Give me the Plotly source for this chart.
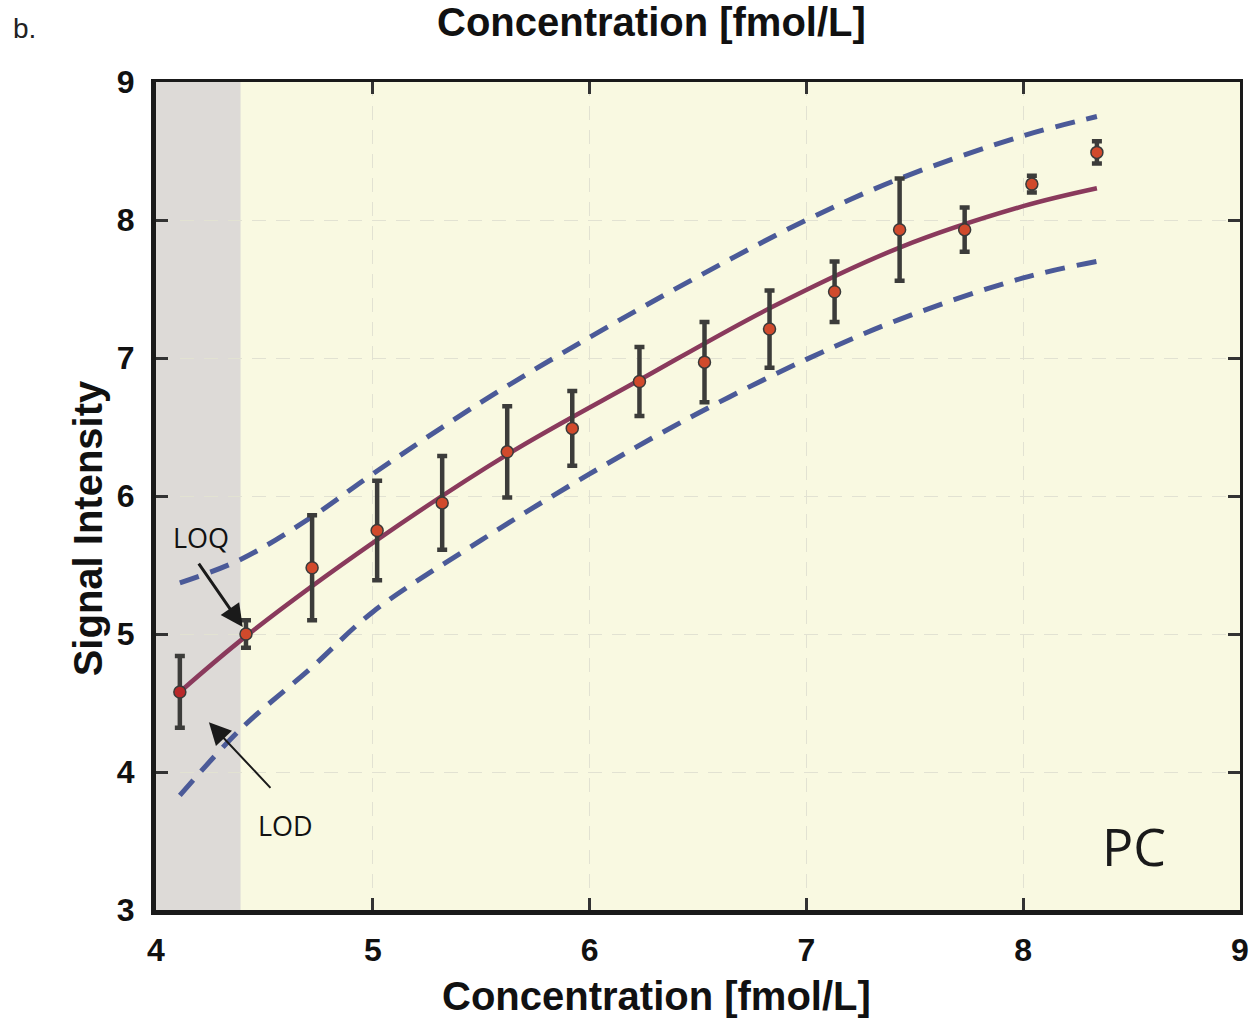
import plotly.graph_objects as go

# ---- data ----
conc = [4.11, 4.415, 4.72, 5.02, 5.32, 5.62, 5.92, 6.23, 6.53, 6.83, 7.13, 7.43, 7.73, 8.04, 8.34]
signal = [4.58, 5.00, 5.48, 5.75, 5.95, 6.32, 6.49, 6.83, 6.97, 7.21, 7.48, 7.93, 7.93, 8.26, 8.49]
err = [0.26, 0.10, 0.38, 0.36, 0.34, 0.33, 0.27, 0.25, 0.29, 0.28, 0.22, 0.37, 0.16, 0.06, 0.08]

fit_x = [4.11, 4.42, 5.0, 5.62, 6.23, 6.83, 7.43, 8.0, 8.34]
fit_y = [4.58, 4.99, 5.66, 6.30, 6.84, 7.36, 7.80, 8.10, 8.23]

upper_x = [4.11, 4.39, 4.72, 5.0, 5.5, 6.0, 6.5, 7.0, 7.43, 8.0, 8.34]
upper_y = [5.37, 5.54, 5.85, 6.16, 6.68, 7.15, 7.59, 8.00, 8.30, 8.61, 8.75]

lower_x = [4.11, 4.39, 4.72, 5.0, 5.5, 6.0, 6.5, 7.0, 7.43, 8.0, 8.34]
lower_y = [3.83, 4.31, 4.76, 5.16, 5.68, 6.16, 6.60, 6.99, 7.28, 7.58, 7.70]

lod_x = 4.39
x_ticks = [4, 5, 6, 7, 8, 9]
y_ticks = [3, 4, 5, 6, 7, 8, 9]

# ---- figure ----
fig = go.Figure()

fig.add_shape(type="rect", xref="x", yref="y", x0=4, x1=lod_x, y0=3, y1=9,
              fillcolor="#dddad7", line=dict(width=0), layer="below")

dash_line = dict(color="#4b5a98", width=5, dash="20px,12px", shape="spline", smoothing=1.0)
fig.add_trace(go.Scatter(x=upper_x, y=upper_y, mode="lines", line=dash_line, hoverinfo="skip"))
fig.add_trace(go.Scatter(x=lower_x, y=lower_y, mode="lines", line=dash_line, hoverinfo="skip"))
fig.add_trace(go.Scatter(x=fit_x, y=fit_y, mode="lines",
                         line=dict(color="#8a3a5c", width=4.5, shape="spline", smoothing=1.0), hoverinfo="skip"))

marker_colors = ["#b8282a"] + ["#d14a2c"] * (len(conc) - 1)
fig.add_trace(go.Scatter(
    x=conc, y=signal, mode="markers",
    error_y=dict(type="data", array=err, color="#3c3c3a", thickness=4.5, width=5),
    marker=dict(color=marker_colors, size=12, line=dict(color="#3a3a3a", width=1.5)),
))

# top / right mirrored axes (thinner lines)
fig.add_trace(go.Scatter(x=[None], y=[None], xaxis="x2", yaxis="y2", showlegend=False))

tickfont = dict(family="Liberation Sans, Arial", size=32, color="#111111", weight="bold")
common = dict(ticks="inside", ticklen=12, tickwidth=3, tickcolor="#333333", zeroline=False, automargin=False)
fig.update_layout(
    width=1251, height=1020,
    margin=dict(l=156, r=11, t=82, b=110, autoexpand=False),
    paper_bgcolor="white", plot_bgcolor="#f9f9e1",
    showlegend=False,
    xaxis=dict(range=[4, 9], tickvals=x_ticks, showline=True, linewidth=5, linecolor="#1a1a1a",
               showgrid=True, gridcolor="#e2e2d2", griddash="14px,10px", gridwidth=1.2,
               tickfont=tickfont, ticklabelstandoff=8, **common),
    yaxis=dict(range=[3, 9], tickvals=y_ticks, showline=True, linewidth=5, linecolor="#1a1a1a",
               showgrid=True, gridcolor="#e2e2d2", griddash="14px,10px", gridwidth=1.2,
               tickfont=tickfont, ticklabelstandoff=10, **common),
    xaxis2=dict(range=[4, 9], tickvals=x_ticks, overlaying="x", side="top", showline=True, linewidth=3,
                linecolor="#1a1a1a", showticklabels=False, showgrid=False, **common),
    yaxis2=dict(range=[3, 9], tickvals=y_ticks, overlaying="y", side="right", showline=True, linewidth=3,
                linecolor="#1a1a1a", showticklabels=False, showgrid=False, **common),
)

titlefont = dict(family="Liberation Sans, Arial", size=40, color="#111111", weight="bold")
fig.add_annotation(text="Concentration [fmol/L]", xref="paper", yref="paper", x=0.462, y=-0.104,
                   xanchor="center", yanchor="middle", showarrow=False, font=titlefont)
fig.add_annotation(text="Concentration [fmol/L]", xref="paper", yref="paper", x=0.457, y=1.072,
                   xanchor="center", yanchor="middle", showarrow=False, font=titlefont)
fig.add_annotation(text="Signal Intensity", xref="paper", yref="paper", x=-0.0627, y=0.461,
                   xanchor="center", yanchor="middle", textangle=-90, showarrow=False, font=titlefont)
fig.add_annotation(text="b.", xref="paper", yref="paper", x=-0.121, y=1.065, xanchor="center", yanchor="middle",
                   showarrow=False, font=dict(family="Liberation Sans, Arial", size=28, color="#222222"))

labfont = dict(family="Open Sans", size=27, color="#111111")
fig.add_annotation(text="LOQ", x=4.207, y=5.70, showarrow=False, font=labfont)
fig.add_annotation(text="LOD", x=4.599, y=3.615, showarrow=False, font=labfont)
fig.add_annotation(text="", x=4.40, y=5.05, ax=-45, ay=-65, showarrow=True, arrowhead=2, arrowsize=1.5,
                   arrowwidth=3, arrowcolor="#1a1a1a", standoff=0)
fig.add_annotation(text="", x=4.244, y=4.36, ax=63, ay=67, showarrow=True, arrowhead=2, arrowsize=2.2,
                   arrowwidth=2, arrowcolor="#1a1a1a", standoff=0)
fig.add_annotation(text="PC", x=8.51, y=3.47, showarrow=False,
                   font=dict(family="Open Sans", size=52, color="#1a1a1a"))

# remove the browser's default 8px body margin so the figure fills the window exactly
fig.write_html("out.html", config={"displayModeBar": False},
               post_script="document.body.style.margin='0';document.body.style.padding='0';")
